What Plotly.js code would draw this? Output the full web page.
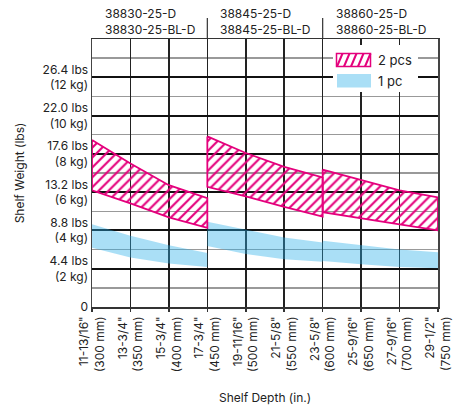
<!DOCTYPE html>
<html><head><meta charset="utf-8">
<script src="https://cdn.plot.ly/plotly-3.0.1.min.js"></script>
<style>html,body{margin:0;padding:0;background:#fff}#chart{width:454px;height:405px}</style>
</head><body><div id="chart"></div>
<script>
// ---- data ----
const depthMM = [300, 350, 400, 450, 500, 550, 600, 650, 700, 750];
const depthLabels = ['11-13/16"<br>(300 mm)', '13-3/4"<br>(350 mm)', '15-3/4"<br>(400 mm)', '17-3/4"<br>(450 mm)',
  '19-11/16"<br>(500 mm)', '21-5/8"<br>(550 mm)', '23-5/8"<br>(600 mm)', '25-9/16"<br>(650 mm)',
  '27-9/16"<br>(700 mm)', '29-1/2"<br>(750 mm)'];
const weightTicks = [0, 4.4, 8.8, 13.2, 17.6, 22.0, 26.4];
const weightLabels = ['0', '4.4 lbs<br>(2 kg)', '8.8 lbs<br>(4 kg)', '13.2 lbs<br>(6 kg)', '17.6 lbs<br>(8 kg)',
  '22.0 lbs<br>(10 kg)', '26.4 lbs<br>(12 kg)'];
const modelLabels = ['38830-25-D<br>38830-25-BL-D', '38845-25-D<br>38845-25-BL-D', '38860-25-D<br>38860-25-BL-D'];
const modelStart = [300, 450, 600];
const seriesNames = ['2 pcs', '1 pc'];

const seg1Depth = [300, 350, 400, 450];
const seg2Depth = [450, 500, 550, 600];
const seg3Depth = [600, 650, 700, 750];

// 2 pcs band (lbs)
const twoUpper1 = [19.2, 16.5, 14.0, 12.5];
const twoLower1 = [13.4, 11.9, 10.3, 9.1];
const twoUpper2 = [19.6, 17.7, 16.1, 14.9];
const twoLower2 = [13.8, 12.7, 11.5, 10.4];
const twoUpper3 = [15.8, 14.6, 13.4, 12.6];
const twoLower3 = [10.9, 10.2, 9.5, 8.8];
// 1 pc band (lbs)
const oneUpper1 = [9.5, 8.2, 7.1, 6.2];
const oneLower1 = [6.8, 5.7, 5.0, 4.6];
const oneUpper2 = [9.8, 8.9, 8.0, 7.4];
const oneLower2 = [7.0, 6.1, 5.5, 5.2];
const oneUpper3 = [7.6, 7.1, 6.6, 6.3];
const oneLower3 = [5.3, 4.9, 4.6, 4.45];

// ---- styling ----
const MAGENTA = '#e4007c';
const BLUE = '#aadff6';
const FONT = 'Inter, "Liberation Sans", Arial, sans-serif';

function band(xs, up, lo) {
  const x = xs.concat(xs.slice().reverse(), [xs[0]]);
  const y = up.concat(lo.slice().reverse(), [up[0]]);
  return {x: x, y: y};
}

const traces = [];
[[seg1Depth, oneUpper1, oneLower1], [seg2Depth, oneUpper2, oneLower2], [seg3Depth, oneUpper3, oneLower3]].forEach(s => {
  const b = band(s[0], s[1], s[2]);
  traces.push({type: 'scatter', mode: 'lines', x: b.x, y: b.y, fill: 'toself',
    fillcolor: 'rgba(43,175,232,0.4)', line: {width: 0, color: 'rgba(0,0,0,0)'},
    name: seriesNames[1], showlegend: false, hoverinfo: 'skip'});
});
[[seg1Depth, twoUpper1, twoLower1], [seg2Depth, twoUpper2, twoLower2], [seg3Depth, twoUpper3, twoLower3]].forEach(s => {
  const b = band(s[0], s[1], s[2]);
  traces.push({type: 'scatter', mode: 'lines', x: b.x, y: b.y, fill: 'toself',
    fillcolor: 'rgba(0,0,0,0)',
    fillpattern: {shape: '/', fgcolor: MAGENTA, bgcolor: 'rgba(0,0,0,0)', size: 7, solidity: 0.3, fillmode: 'replace'},
    line: {width: 1.8, color: MAGENTA},
    name: seriesNames[0], showlegend: false, hoverinfo: 'skip'});
});

// plot area in pixels
const P = {l: 92, t: 39, w: 346, h: 268};
const px2x = px => (px - P.l) / P.w;
const py2y = py => (P.t + P.h - py) / P.h;

const shapes = [];
// separators above the plot
[450, 600].forEach(v => shapes.push({type: 'line', xref: 'x', yref: 'paper', x0: v, x1: v,
  y0: 1, y1: 1 + 21 / P.h, line: {color: '#333', width: 1.2}}));
// legend box
shapes.push({type: 'rect', xref: 'paper', yref: 'paper', x0: px2x(333), x1: px2x(418), y0: py2y(92), y1: py2y(45),
  fillcolor: '#fff', line: {width: 0}, layer: 'above'});
// hatched swatch
for (let i = 0; i < 5; i++) {
  const xb = 337 + i * 7;
  shapes.push({type: 'line', xref: 'paper', yref: 'paper', x0: px2x(xb), y0: py2y(66.5), x1: px2x(Math.min(xb + 5.5, 370.5)), y1: py2y(53.5),
    line: {color: MAGENTA, width: 2}, layer: 'above'});
}
shapes.push({type: 'rect', xref: 'paper', yref: 'paper', x0: px2x(336.5), x1: px2x(370.5), y0: py2y(66.5), y1: py2y(53.5),
  fillcolor: 'rgba(0,0,0,0)', line: {width: 1.5, color: MAGENTA}, layer: 'above'});
shapes.push({type: 'rect', xref: 'paper', yref: 'paper', x0: px2x(337), x1: px2x(371), y0: py2y(87.5), y1: py2y(74),
  fillcolor: BLUE, line: {width: 0}, layer: 'above'});

const annotations = modelLabels.map((t, i) => ({text: t, xref: 'x', yref: 'paper', x: modelStart[i], y: 1,
  xanchor: 'left', yanchor: 'bottom', xshift: 11, yshift: 0, align: 'left', showarrow: false,
  font: {family: FONT, size: 12, color: '#222'}}));
annotations.push({text: seriesNames[0], xref: 'paper', yref: 'paper', x: px2x(376), y: py2y(60), xanchor: 'left', yanchor: 'middle',
  showarrow: false, font: {family: FONT, size: 13, color: '#222'}});
annotations.push({text: seriesNames[1], xref: 'paper', yref: 'paper', x: px2x(376), y: py2y(81), xanchor: 'left', yanchor: 'middle',
  showarrow: false, font: {family: FONT, size: 13, color: '#222'}});

const layout = {
  width: 454, height: 405,
  margin: {l: P.l, r: 454 - P.l - P.w, t: P.t, b: 405 - P.t - P.h, pad: 0},
  paper_bgcolor: '#fff', plot_bgcolor: '#fff',
  font: {family: FONT, size: 12, color: '#222'},
  showlegend: false,
  xaxis: {
    range: [300, 750], tickvals: depthMM, ticktext: depthLabels, tickangle: -90,
    showgrid: true, gridcolor: '#222', gridwidth: 1.5,
    showline: true, mirror: true, linecolor: '#333', linewidth: 1.5,
    ticks: 'outside', ticklen: 3, tickcolor: '#333', tickwidth: 1.5,
    zeroline: false, fixedrange: true,
    title: {text: 'Shelf Depth (in.)', font: {family: FONT, size: 12, color: '#222'}, standoff: 23}
  },
  yaxis: {
    range: [0, 30.8], tickvals: weightTicks, ticktext: weightLabels,
    showgrid: true, gridcolor: '#111', gridwidth: 2,
    minor: {dtick: 2.2, tick0: 0, showgrid: true, gridcolor: '#999', gridwidth: 1.5, ticks: ''},
    showline: true, mirror: true, linecolor: '#444', linewidth: 1.5,
    ticks: '', zeroline: true, zerolinecolor: '#111', zerolinewidth: 2, fixedrange: true,
    title: {text: 'Shelf Weight (lbs)', font: {family: FONT, size: 12, color: '#222'}, standoff: 15}
  },
  shapes: shapes,
  annotations: annotations
};

Plotly.newPlot('chart', traces, layout, {displayModeBar: false, staticPlot: true});
</script>
</body></html>
